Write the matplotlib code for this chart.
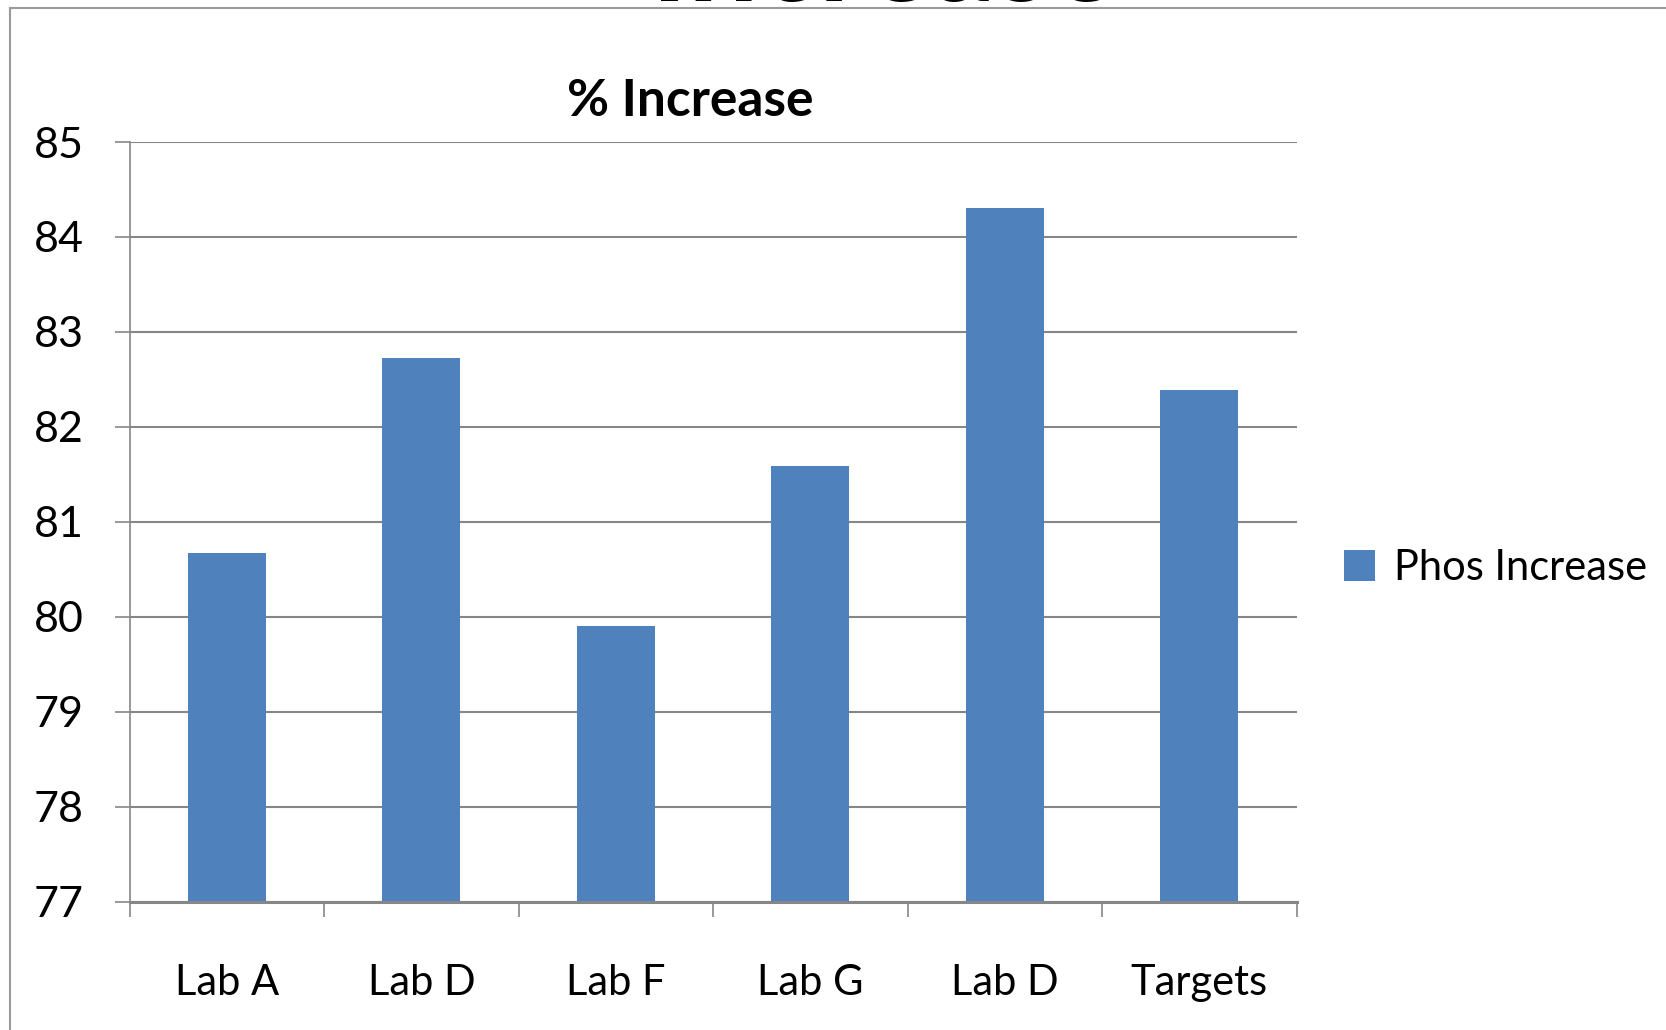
import matplotlib
matplotlib.use("Agg")
import matplotlib.pyplot as plt
from matplotlib.lines import Line2D
import numpy as np

categories = ["Lab A", "Lab D", "Lab F", "Lab G", "Lab D", "Targets"]
values = [80.67, 82.73, 79.90, 81.59, 84.30, 82.39]
yticks = [77, 78, 79, 80, 81, 82, 83, 84, 85]
series_name = "Phos Increase"
title = "% Increase"

plt.rcParams['font.family'] = ['Lato', 'DejaVu Sans']

W, H = 1666, 1030
fig = plt.figure(figsize=(W / 100, H / 100), dpi=100)

grid_c = "#868686"
bar_c = "#4F81BD"

ax = fig.add_axes([129.6 / W, 128.5 / H, (1296.5 - 129.6) / W, (901.5 - 142) / H])
x = np.arange(len(categories))
ax.bar(x, values, width=0.4, color=bar_c, zorder=3, label=series_name)
ax.set_ylim(77, 85)
ax.set_xlim(-0.5, len(categories) - 0.5)
ax.set_yticks(yticks)
ax.set_yticklabels([str(v) for v in yticks], fontsize=31)
ax.yaxis.grid(True, color=grid_c, linewidth=1.5, zorder=0)
ax.tick_params(axis='y', length=11, width=1.2, color=grid_c, pad=22)

ax.set_xticks(x)
ax.set_xticklabels(categories, fontsize=30)
ax.tick_params(axis='x', which='major', length=0, pad=45)
ax.set_xticks(np.arange(len(categories) + 1) - 0.5, minor=True)
ax.tick_params(axis='x', which='minor', length=11, width=1.2, color=grid_c)

for s in ["top", "right"]:
    ax.spines[s].set_visible(False)
ax.spines["left"].set_color(grid_c)
ax.spines["left"].set_linewidth(1.2)
ax.spines["bottom"].set_color(grid_c)
ax.spines["bottom"].set_linewidth(2.2)
ax.spines["bottom"].set_zorder(4)

fig.text(690 / W, 1 - 101 / H, title, fontsize=37, fontweight='bold',
         ha='center', va='center')

leg = fig.legend(loc='center left', bbox_to_anchor=(1323 / W, 1 - 568 / H),
                 frameon=False, fontsize=30, handlelength=0.75, handleheight=0.75,
                 handletextpad=0.45, borderpad=0)

# partially visible slide title above the chart frame
fig.text(884 / W, 1 - 0.5 / H, "Increase", fontsize=90, fontweight='bold',
         ha='center', va='baseline')

fig.add_artist(Line2D([10 / W, 10 / W], [0, 1 - 7.5 / H], transform=fig.transFigure,
                      color="#9a9a9a", linewidth=1.5))
fig.add_artist(Line2D([10 / W, 1], [1 - 7.5 / H, 1 - 7.5 / H], transform=fig.transFigure,
                      color="#9a9a9a", linewidth=1.5))

fig.savefig("out.png", dpi=100, facecolor="white")
